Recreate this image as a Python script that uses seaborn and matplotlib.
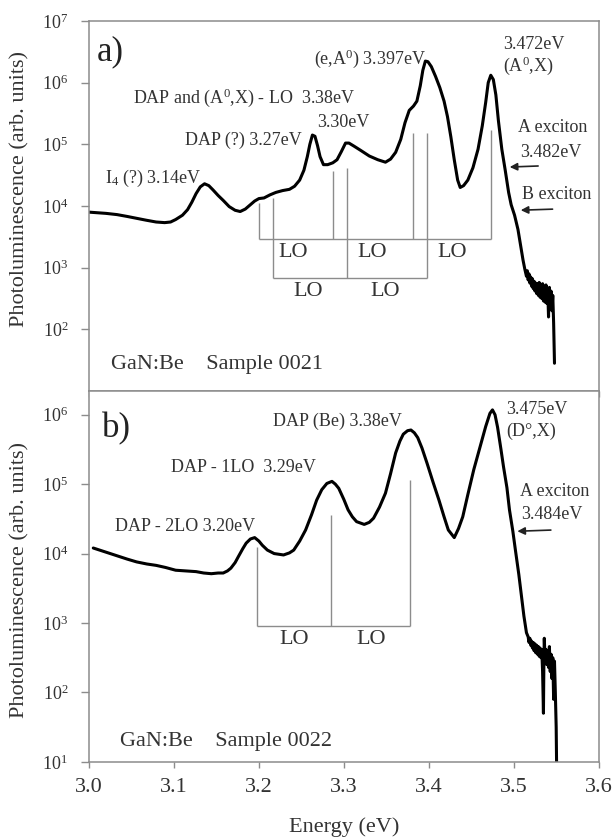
import matplotlib
matplotlib.use("Agg")
import matplotlib.pyplot as plt
import pandas as pd
import seaborn as sns

# ---- sample 0021 (panel a): energy (eV) and log10 of PL intensity ----
energy_a = [3.000, 3.010, 3.020, 3.033, 3.045, 3.056, 3.067, 3.079, 3.089, 3.096,
            3.102, 3.110, 3.116, 3.121, 3.126, 3.131, 3.136, 3.141, 3.146, 3.152,
            3.158, 3.165, 3.172, 3.178, 3.184, 3.190, 3.195, 3.200, 3.206, 3.213,
            3.220, 3.228, 3.236, 3.242, 3.248, 3.253, 3.257, 3.260, 3.263, 3.266,
            3.269, 3.272, 3.276, 3.281, 3.287, 3.292, 3.297, 3.302, 3.306, 3.312,
            3.320, 3.330, 3.340, 3.349, 3.355, 3.361, 3.367, 3.372, 3.377, 3.382,
            3.386, 3.390, 3.393, 3.396, 3.399, 3.403, 3.408, 3.413, 3.418, 3.422,
            3.426, 3.430, 3.434, 3.437, 3.441, 3.446, 3.452, 3.458, 3.463, 3.467,
            3.470, 3.473, 3.476, 3.479, 3.482, 3.486, 3.490, 3.494, 3.497, 3.501,
            3.505, 3.509, 3.511, 3.513, 3.515, 3.516, 3.517, 3.518, 3.519, 3.520,
            3.521, 3.522, 3.523, 3.524, 3.525, 3.526, 3.527, 3.528, 3.529, 3.530,
            3.531, 3.532, 3.533, 3.534, 3.535, 3.536, 3.537, 3.538, 3.539, 3.540,
            3.541, 3.5415, 3.542, 3.543, 3.544, 3.545, 3.546, 3.547, 3.548]
log_pl_a = [3.90, 3.89, 3.88, 3.86, 3.83, 3.80, 3.77, 3.74, 3.73, 3.74,
            3.78, 3.85, 3.94, 4.06, 4.20, 4.31, 4.36, 4.33, 4.26, 4.17,
            4.09, 3.99, 3.93, 3.91, 3.95, 4.02, 4.08, 4.12, 4.13, 4.18,
            4.22, 4.25, 4.27, 4.32, 4.42, 4.58, 4.80, 5.00, 5.15, 5.13,
            4.98, 4.80, 4.67, 4.67, 4.70, 4.75, 4.88, 5.02, 5.02, 4.97,
            4.90, 4.81, 4.75, 4.71, 4.76, 4.87, 5.08, 5.35, 5.55, 5.62,
            5.70, 5.95, 6.20, 6.35, 6.34, 6.26, 6.10, 5.92, 5.70, 5.45,
            5.12, 4.75, 4.42, 4.30, 4.33, 4.42, 4.62, 4.92, 5.30, 5.68,
            6.00, 6.12, 6.05, 5.80, 5.38, 4.92, 4.58, 4.22, 4.02, 3.85,
            3.62, 3.28, 3.12, 2.98, 2.86, 2.95, 2.80, 2.90, 2.75, 2.85,
            2.70, 2.82, 2.66, 2.78, 2.62, 2.75, 2.58, 2.74, 2.55, 2.76,
            2.52, 2.72, 2.50, 2.74, 2.46, 2.70, 2.44, 2.72, 2.42, 2.66,
            2.20, 2.60, 2.68, 2.38, 2.62, 2.30, 2.55, 2.10, 1.45]

# ---- sample 0022 (panel b) ----
energy_b = [3.005, 3.015, 3.025, 3.035, 3.045, 3.056, 3.068, 3.079, 3.090, 3.102,
            3.114, 3.126, 3.135, 3.144, 3.152, 3.158, 3.163, 3.167, 3.172, 3.176,
            3.181, 3.185, 3.190, 3.195, 3.200, 3.204, 3.210, 3.218, 3.229, 3.236,
            3.241, 3.248, 3.255, 3.262, 3.268, 3.274, 3.280, 3.286, 3.290, 3.294,
            3.300, 3.305, 3.310, 3.315, 3.324, 3.330, 3.335, 3.342, 3.349, 3.355,
            3.361, 3.366, 3.370, 3.375, 3.379, 3.383, 3.387, 3.392, 3.398, 3.405,
            3.412, 3.418, 3.423, 3.430, 3.435, 3.440, 3.446, 3.453, 3.460, 3.467,
            3.472, 3.475, 3.478, 3.481, 3.485, 3.488, 3.492, 3.495, 3.499, 3.502,
            3.506, 3.509, 3.512, 3.515, 3.517, 3.518, 3.519, 3.520, 3.521, 3.522,
            3.523, 3.524, 3.525, 3.526, 3.527, 3.528, 3.529, 3.530, 3.531, 3.532,
            3.533, 3.534, 3.535, 3.5355, 3.536, 3.537, 3.538, 3.539, 3.540, 3.541,
            3.542, 3.543, 3.544, 3.545, 3.546, 3.547, 3.548, 3.549, 3.550, 3.5505]
log_pl_b = [4.08, 4.04, 4.00, 3.96, 3.92, 3.88, 3.85, 3.83, 3.80, 3.76,
            3.75, 3.74, 3.72, 3.71, 3.72, 3.72, 3.75, 3.79, 3.87, 3.96,
            4.07, 4.15, 4.21, 4.23, 4.18, 4.12, 4.05, 4.00, 3.98, 4.01,
            4.05, 4.18, 4.34, 4.56, 4.77, 4.92, 5.01, 5.04, 5.00, 4.94,
            4.78, 4.63, 4.53, 4.46, 4.42, 4.45, 4.51, 4.67, 4.87, 5.15,
            5.45, 5.62, 5.72, 5.77, 5.78, 5.74, 5.67, 5.52, 5.30, 5.03,
            4.77, 4.53, 4.34, 4.23, 4.36, 4.53, 4.85, 5.21, 5.52, 5.83,
            6.02, 6.07, 6.00, 5.82, 5.50, 5.25, 4.95, 4.63, 4.32, 4.05,
            3.70, 3.40, 3.10, 2.86, 2.80, 2.72, 2.78, 2.68, 2.74, 2.64,
            2.72, 2.60, 2.70, 2.57, 2.68, 2.55, 2.66, 2.52, 2.64, 2.50,
            2.62, 2.30, 1.70, 2.40, 2.78, 2.45, 2.62, 2.40, 2.58, 2.36,
            2.66, 2.30, 2.55, 2.20, 2.50, 1.90, 2.45, 2.00, 1.50, 0.95]

# LO replica markers: energy, top of the marker line (log10), bracket row level (log10)
lo_a_row1_e = [3.2000, 3.2872, 3.3815, 3.4735]
lo_a_row1_top = [4.05, 4.56, 5.18, 5.23]
lo_a_row2_e = [3.2162, 3.3032, 3.3975]
lo_a_row2_top = [4.13, 4.61, 5.18]
lo_a_levels = [3.46, 2.84]
lo_a_labels_e = [[3.240, 3.333, 3.427], [3.258, 3.349]]

lo_b_e = [3.1973, 3.2845, 3.378]
lo_b_top = [4.10, 4.56, 5.06]
lo_b_level = 2.96
lo_b_labels_e = [3.241, 3.332]

df_a = pd.DataFrame({"energy": energy_a, "pl": [10 ** v for v in log_pl_a]})
df_b = pd.DataFrame({"energy": energy_b, "pl": [10 ** v for v in log_pl_b]})

sns.set_theme(style="white")
plt.rcParams["font.family"] = ["Liberation Serif", "DejaVu Serif"]
plt.rcParams["mathtext.fontset"] = "custom"
plt.rcParams["mathtext.rm"] = "Liberation Serif"
plt.rcParams["mathtext.it"] = "Liberation Serif:italic"

txt = "#333333"
gray = "#8c8c8c"

fig = plt.figure(figsize=(6.14, 8.39), dpi=100)
ax_a = fig.add_axes([0.145, 0.534, 0.83, 0.441])
ax_b = fig.add_axes([0.145, 0.092, 0.83, 0.442])

for ax, df in [(ax_a, df_a), (ax_b, df_b)]:
    sns.lineplot(data=df, x="energy", y="pl", ax=ax, color="black", lw=2.2,
                 estimator=None, sort=False)
    ax.set_yscale("log")
    ax.set_xlim(3.0, 3.6)
    ax.set_xticks([3.0, 3.1, 3.2, 3.3, 3.4, 3.5, 3.6])
    ax.minorticks_off()
    for s in ax.spines.values():
        s.set_color(gray)
        s.set_linewidth(1.1)
    ax.tick_params(axis="y", direction="out", length=6, width=1, color=gray,
                   labelsize=13, labelcolor=txt, pad=9, left=True)
    ax.tick_params(axis="x", direction="out", length=4, width=1, color=gray,
                   labelsize=16, labelcolor=txt, pad=8, bottom=True)
    ax.set_ylabel("Photoluminescence (arb. units)", fontsize=16, color=txt)

ax_a.set_ylim(10, 1e7)
ax_a.set_yticks([1e2, 1e3, 1e4, 1e5, 1e6, 1e7])
ax_a.minorticks_off()
ax_a.set_xlabel("")
ax_a.tick_params(axis="x", labelbottom=False)
ax_a.yaxis.set_label_coords(-0.116, 0.545)

ax_b.set_ylim(10, 2.2e6)
ax_b.set_yticks([1e1, 1e2, 1e3, 1e4, 1e5, 1e6])
ax_b.minorticks_off()
ax_b.set_xticklabels(["3.0", "3.1", "3.2", "3.3", "3.4", "3.5", "3.6"])
ax_b.set_xlabel("Energy (eV)", fontsize=16, color=txt, labelpad=14)
ax_b.yaxis.set_label_coords(-0.116, 0.49)

# LO brackets, panel a
ax_a.vlines(lo_a_row1_e, [10 ** lo_a_levels[0]] * 4, [10 ** v for v in lo_a_row1_top],
            color=gray, lw=1)
ax_a.hlines(10 ** lo_a_levels[0], lo_a_row1_e[0], lo_a_row1_e[-1], color=gray, lw=1)
ax_a.vlines(lo_a_row2_e, [10 ** lo_a_levels[1]] * 3, [10 ** v for v in lo_a_row2_top],
            color=gray, lw=1)
ax_a.hlines(10 ** lo_a_levels[1], lo_a_row2_e[0], lo_a_row2_e[-1], color=gray, lw=1)
for e in lo_a_labels_e[0]:
    ax_a.text(e, 10 ** 3.245, "LO", fontsize=16, color=txt, ha="center", va="center")
for e in lo_a_labels_e[1]:
    ax_a.text(e, 10 ** 2.61, "LO", fontsize=16, color=txt, ha="center", va="center")

# LO brackets, panel b
ax_b.vlines(lo_b_e, [10 ** lo_b_level] * 3, [10 ** v for v in lo_b_top], color=gray, lw=1)
ax_b.hlines(10 ** lo_b_level, lo_b_e[0], lo_b_e[-1], color=gray, lw=1)
for e in lo_b_labels_e:
    ax_b.text(e, 10 ** 2.755, "LO", fontsize=16, color=txt, ha="center", va="center")

fs = 13
# panel a labels
ax_a.text(3.009, 10 ** 6.5, "a)", fontsize=25, color="#222222", va="center")
ax_a.text(3.397, 10 ** 6.38, r"(e,A$^0$) 3.397eV", fontsize=fs, color=txt, ha="right", va="center")
ax_a.text(3.487, 10 ** 6.62, "3.472eV", fontsize=fs, color=txt, va="center")
ax_a.text(3.487, 10 ** 6.27, r"(A$^0$,X)", fontsize=fs, color=txt, va="center")
ax_a.text(3.052, 10 ** 5.75, r"DAP and (A$^0$,X) - LO  3.38eV", fontsize=fs, color=txt, va="center")
ax_a.text(3.269, 10 ** 5.35, "3.30eV", fontsize=fs, color=txt, va="center")
ax_a.text(3.113, 10 ** 5.06, "DAP (?) 3.27eV", fontsize=fs, color=txt, va="center")
ax_a.text(3.019, 10 ** 4.44, r"I$_4$ (?) 3.14eV", fontsize=fs, color=txt, va="center")
ax_a.text(3.505, 10 ** 5.27, "A exciton", fontsize=fs, color=txt, va="center")
ax_a.text(3.507, 10 ** 4.87, "3.482eV", fontsize=fs, color=txt, va="center")
ax_a.text(3.510, 10 ** 4.19, "B exciton", fontsize=fs, color=txt, va="center")
ax_a.text(3.026, 10 ** 1.43, "GaN:Be    Sample 0021", fontsize=16, color=txt, va="center")
arrow = dict(arrowstyle="-|>", color="#222222", lw=1.2, mutation_scale=11)
ax_a.annotate("", xy=(3.492, 10 ** 4.63), xytext=(3.532, 10 ** 4.65), arrowprops=arrow)
ax_a.annotate("", xy=(3.505, 10 ** 3.93), xytext=(3.549, 10 ** 3.95), arrowprops=arrow)

# panel b labels
ax_b.text(3.015, 10 ** 5.8, "b)", fontsize=25, color="#222222", va="center")
ax_b.text(3.368, 10 ** 5.9, "DAP (Be) 3.38eV", fontsize=fs, color=txt, ha="right", va="center")
ax_b.text(3.491, 10 ** 6.07, "3.475eV", fontsize=fs, color=txt, va="center")
ax_b.text(3.491, 10 ** 5.76, "(D°,X)", fontsize=fs, color=txt, va="center")
ax_b.text(3.096, 10 ** 5.24, "DAP - 1LO  3.29eV", fontsize=fs, color=txt, va="center")
ax_b.text(3.031, 10 ** 4.39, "DAP - 2LO 3.20eV", fontsize=fs, color=txt, va="center")
ax_b.text(3.507, 10 ** 4.90, "A exciton", fontsize=fs, color=txt, va="center")
ax_b.text(3.509, 10 ** 4.56, "3.484eV", fontsize=fs, color=txt, va="center")
ax_b.text(3.036, 10 ** 1.29, "GaN:Be    Sample 0022", fontsize=16, color=txt, va="center")
ax_b.annotate("", xy=(3.501, 10 ** 4.32), xytext=(3.547, 10 ** 4.34), arrowprops=arrow)

fig.savefig("out.png", dpi=100)
